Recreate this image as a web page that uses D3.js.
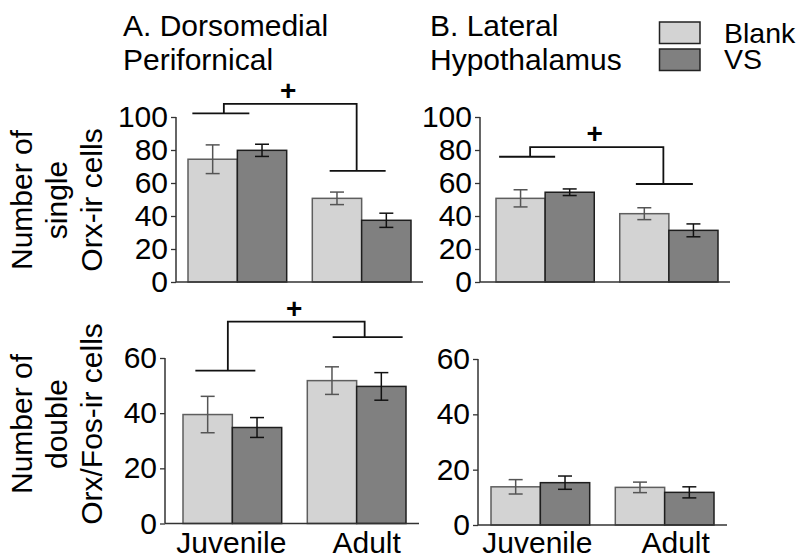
<!DOCTYPE html>
<html>
<head>
<meta charset="utf-8">
<script src="https://cdn.jsdelivr.net/npm/d3@7/dist/d3.min.js"></script>
<style>
  html, body { margin: 0; padding: 0; background: #fff; }
  svg { display: block; font-family: "Liberation Sans", Arial, Helvetica, sans-serif; }
</style>
</head>
<body>
<svg id="chart" width="801" height="560"></svg>
<script>
// Age groups and treatment series
const groups = ["Juvenile", "Adult"];
const series = ["Blank", "VS"];

// Means and SEM, ordered [Juvenile-Blank, Juvenile-VS, Adult-Blank, Adult-VS]
const dmpfSingleMean = [74.4, 79.8, 50.7, 37.4];
const dmpfSingleSem  = [8.7, 3.7, 3.8, 4.3];
const lhSingleMean   = [50.7, 54.4, 41.4, 31.3];
const lhSingleSem    = [5.2, 2.0, 3.6, 3.9];
const dmpfDoubleMean = [39.5, 34.8, 51.8, 49.7];
const dmpfDoubleSem  = [6.6, 3.6, 5.0, 5.0];
const lhDoubleMean   = [13.8, 15.3, 13.6, 11.8];
const lhDoubleSem    = [2.6, 2.4, 1.9, 2.0];

// Axis ticks
const singleTicks = [0, 20, 40, 60, 80, 100];
const doubleTicks = [0, 20, 40, 60];

// Significance brackets (age main effect): y levels in data units
const dmpfSingleBracket = { left: 102.2, top: 108, right: 67.3 };
const lhSingleBracket   = { left: 75.9, top: 81.8, right: 59.4 };
const dmpfDoubleBracket = { left: 55.4, top: 73.2, right: 67.6 };

const fills = { Blank: "#d3d3d3", VS: "#808080" };
const strokes = { Blank: "#5e5e5e", VS: "#1e1e1e" };
const FONT = 30;

const svg = d3.select("#chart");

function panel(cfg) {
  const g = svg.append("g");
  const y = d3.scaleLinear().domain([0, cfg.yMax]).range([cfg.y0, cfg.yTop]);
  const x = d3.scaleBand().domain(groups).range([cfg.bandStart, cfg.bandEnd]).paddingInner(0.206).paddingOuter(0);
  const xs = d3.scaleBand().domain(series).range([0, x.bandwidth()]).padding(0);

  const rows = [];
  groups.forEach((grp, gi) => series.forEach((s, si) => {
    const i = gi * 2 + si;
    rows.push({ grp, s, mean: cfg.mean[i], sem: cfg.sem[i] });
  }));

  // bars
  g.selectAll("rect.bar").data(rows).join("rect")
    .attr("class", "bar")
    .attr("x", d => x(d.grp) + xs(d.s))
    .attr("y", d => y(d.mean))
    .attr("width", xs.bandwidth())
    .attr("height", d => y(0) - y(d.mean))
    .attr("fill", d => fills[d.s])
    .attr("stroke", d => strokes[d.s])
    .attr("stroke-width", 1.5);

  // error bars
  const cap = 7;
  const eb = g.selectAll("g.err").data(rows).join("g").attr("class", "err")
    .attr("stroke", d => d.s === "Blank" ? "#555" : "#111")
    .attr("stroke-width", 1.5);
  eb.append("line")
    .attr("x1", d => x(d.grp) + xs(d.s) + xs.bandwidth() / 2)
    .attr("x2", d => x(d.grp) + xs(d.s) + xs.bandwidth() / 2)
    .attr("y1", d => y(d.mean + d.sem))
    .attr("y2", d => y(d.mean - d.sem));
  [1, -1].forEach(sign => {
    eb.append("line")
      .attr("x1", d => x(d.grp) + xs(d.s) + xs.bandwidth() / 2 - cap)
      .attr("x2", d => x(d.grp) + xs(d.s) + xs.bandwidth() / 2 + cap)
      .attr("y1", d => y(d.mean + sign * d.sem))
      .attr("y2", d => y(d.mean + sign * d.sem));
  });

  // y axis
  const ya = g.append("g").attr("transform", `translate(${cfg.axisX},0)`)
    .call(d3.axisLeft(y).tickValues(cfg.ticks).tickSize(5).tickPadding(3).tickFormat(d3.format("d")));
  ya.select(".domain").remove();
  ya.selectAll(".tick line").attr("stroke", "#333").attr("stroke-width", 1.3);
  ya.selectAll(".tick text").attr("font-size", FONT).attr("fill", "#000")
    .attr("font-family", "Liberation Sans, Arial, sans-serif");
  g.append("line").attr("x1", cfg.axisX).attr("x2", cfg.axisX)
    .attr("y1", y(0)).attr("y2", y(cfg.yMax)).attr("stroke", "#333").attr("stroke-width", 1.5);
  // x axis baseline
  g.append("line").attr("x1", cfg.axisX).attr("x2", cfg.axisEnd)
    .attr("y1", y(0)).attr("y2", y(0)).attr("stroke", "#333").attr("stroke-width", 1.5);

  // x labels
  if (cfg.xLabels) {
    g.selectAll("text.xl").data(groups).join("text")
      .attr("class", "xl")
      .attr("x", (d, i) => x(d) + x.bandwidth() / 2 + cfg.labelShift[i])
      .attr("y", cfg.labelY)
      .attr("text-anchor", "middle")
      .attr("font-size", FONT)
      .text(d => d);
  }

  // significance bracket
  if (cfg.bracket) {
    const b = cfg.bracket, o = cfg.bracketOffsets;
    const cj = x(groups[0]) + x.bandwidth() / 2;
    const ca = x(groups[1]) + x.bandwidth() / 2;
    const vl = cj + o.leftV, vr = ca + o.rightV;
    const path = d3.path();
    path.moveTo(cj + o.left[0], y(b.left)); path.lineTo(cj + o.left[1], y(b.left));
    path.moveTo(vl, y(b.left)); path.lineTo(vl, y(b.top)); path.lineTo(vr, y(b.top)); path.lineTo(vr, y(b.right));
    path.moveTo(ca + o.right[0], y(b.right)); path.lineTo(ca + o.right[1], y(b.right));
    g.append("path").attr("d", path.toString()).attr("fill", "none")
      .attr("stroke", "#111").attr("stroke-width", 1.8);
    g.append("text").attr("x", (vl + vr) / 2 - 2).attr("y", y(b.top) - 4)
      .attr("text-anchor", "middle").attr("font-size", 28).attr("font-weight", "bold").text("+");
  }
}

panel({ mean: dmpfSingleMean, sem: dmpfSingleSem, yMax: 100, ticks: singleTicks,
  y0: 282, yTop: 117, axisX: 176, bandStart: 188, bandEnd: 411, axisEnd: 423,
  bracket: dmpfSingleBracket, bracketOffsets: { left: [-45, 12], leftV: -13.5, right: [-32, 24], rightV: -5 } });
panel({ mean: lhSingleMean, sem: lhSingleSem, yMax: 100, ticks: singleTicks,
  y0: 282, yTop: 117, axisX: 480, bandStart: 496, bandEnd: 718, axisEnd: 730,
  bracket: lhSingleBracket, bracketOffsets: { left: [-46, 10], leftV: -15, right: [-33, 24], rightV: -5.5 } });
panel({ mean: dmpfDoubleMean, sem: dmpfDoubleSem, yMax: 60, ticks: doubleTicks,
  y0: 523.5, yTop: 358, axisX: 165, bandStart: 183, bandEnd: 406, axisEnd: 419,
  xLabels: true, labelY: 553, labelShift: [-1, 10],
  bracket: dmpfDoubleBracket, bracketOffsets: { left: [-37, 23], leftV: -4.5, right: [-24, 46], rightV: 8 } });
panel({ mean: lhDoubleMean, sem: lhDoubleSem, yMax: 60, ticks: doubleTicks,
  y0: 525, yTop: 359, axisX: 478, bandStart: 491, bandEnd: 714, axisEnd: 727,
  xLabels: true, labelY: 553, labelShift: [-3, 11] });

// panel titles
const titles = [
  { x: 123, lines: ["A. Dorsomedial", "Perifornical"] },
  { x: 430, lines: ["B. Lateral", "Hypothalamus"] }
];
titles.forEach(t => {
  t.lines.forEach((ln, i) => {
    svg.append("text").attr("x", t.x).attr("y", 36 + i * 34).attr("font-size", FONT).text(ln);
  });
});

// y axis titles
const yTitles = [
  { cy: 200, lines: ["Number of", "single", "Orx-ir cells"] },
  { cy: 424, lines: ["Number of", "double", "Orx/Fos-ir cells"] }
];
yTitles.forEach(t => {
  t.lines.forEach((ln, i) => {
    svg.append("text")
      .attr("transform", `translate(${32 + i * 35},${t.cy}) rotate(-90)`)
      .attr("text-anchor", "middle").attr("font-size", FONT).text(ln);
  });
});

// legend
const leg = svg.append("g");
series.forEach((s, i) => {
  leg.append("rect").attr("x", 659.5).attr("y", 22 + i * 27).attr("width", 40.5).attr("height", 21.5)
    .attr("fill", fills[s]).attr("stroke", "#222").attr("stroke-width", 1.5);
  leg.append("text").attr("x", 724).attr("y", 43 + i * 25.5).attr("font-size", 28.5).text(s);
});
</script>
</body>
</html>
